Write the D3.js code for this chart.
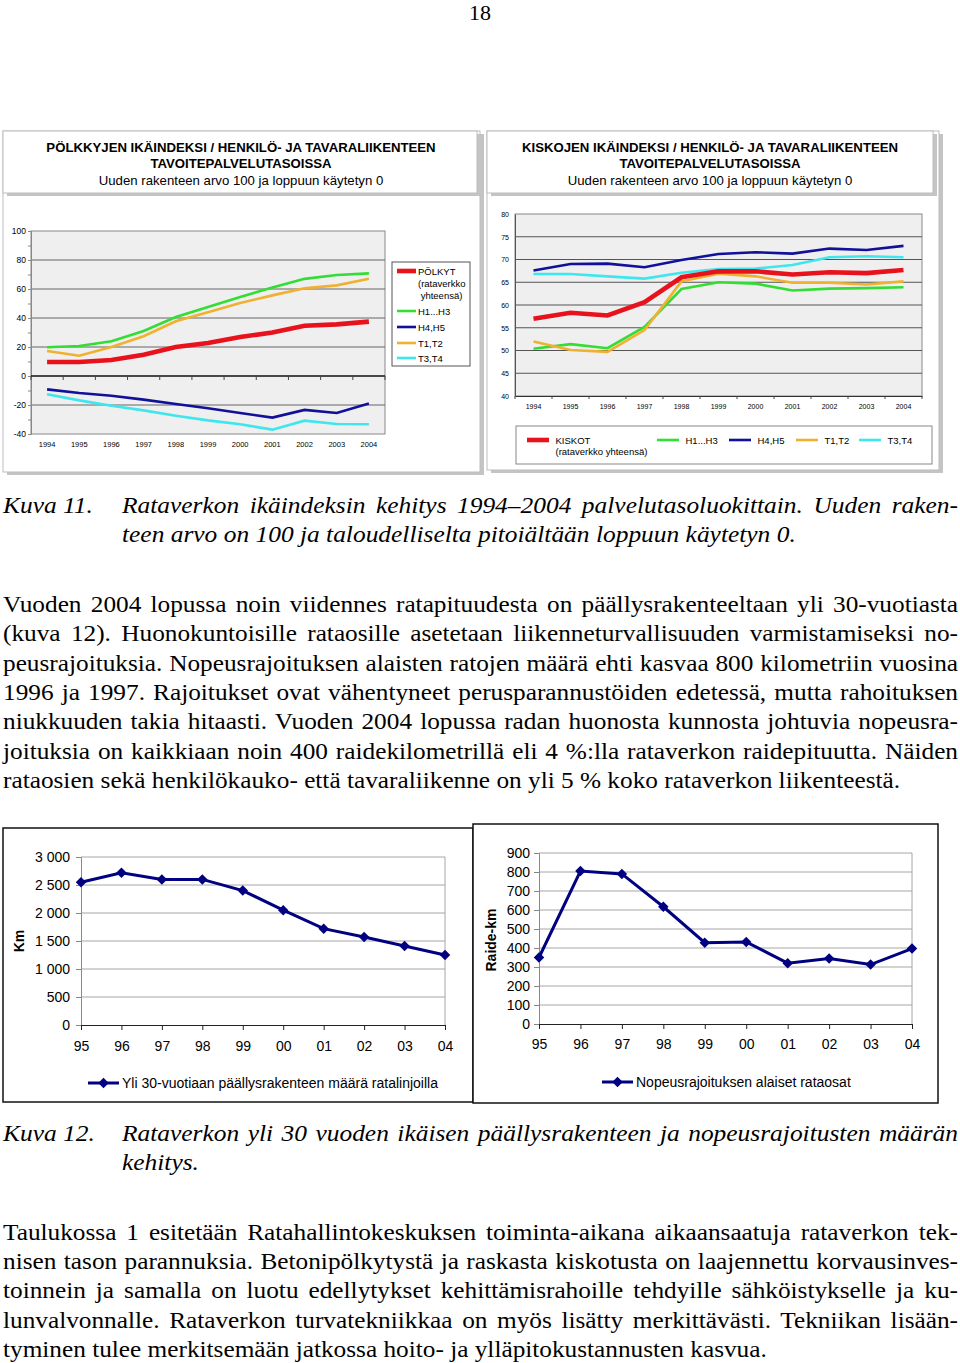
<!DOCTYPE html>
<html>
<head>
<meta charset="utf-8">
<script src="https://cdn.jsdelivr.net/npm/d3@7"></script>
<style>
  body { margin: 0; background: #fff; }
  svg { display: block; }
  .sans { font-family: "Liberation Sans", Arial, sans-serif; }
  .serif { font-family: "Liberation Serif", "Times New Roman", serif; }
</style>
</head>
<body>
<script>
// ---- data ----
var years = ["1994","1995","1996","1997","1998","1999","2000","2001","2002","2003","2004"];

var polkytTotal = [9.7, 9.7, 11, 14.7, 20, 22.8, 26.9, 30, 34.7, 35.6, 37.5];
var polkytH1H3  = [19.8, 20.7, 24, 31, 40.7, 47.6, 54.5, 61, 67, 69.7, 70.8];
var polkytH4H5  = [-9.2, -11.7, -13.6, -16.3, -19.3, -22.3, -25.5, -28.7, -23.4, -25.5, -19];
var polkytT1T2  = [17.2, 14, 20, 27.4, 37.7, 44, 50.3, 55.6, 60.5, 62.5, 67.1];
var polkytT3T4  = [-12.6, -16.8, -20.5, -23.7, -27.4, -30.6, -33.3, -37, -30.8, -33.1, -33.3];

var kiskotTotal = [57, 58.3, 57.7, 60.6, 66.1, 67.4, 67.4, 66.7, 67.2, 67, 67.7];
var kiskotH1H3  = [50.4, 51.4, 50.5, 55.2, 63.5, 65, 64.7, 63.2, 63.6, 63.7, 63.9];
var kiskotH4H5  = [67.6, 69, 69.1, 68.3, 69.9, 71.2, 71.6, 71.3, 72.4, 72.1, 73];
var kiskotT1T2  = [52, 50.1, 49.7, 54.5, 65.2, 66.9, 66.3, 64.9, 64.9, 64.5, 65.2];
var kiskotT3T4  = [66.8, 66.8, 66.3, 65.8, 67.1, 67.9, 68, 68.8, 70.5, 70.7, 70.5];

var shortYears = ["95","96","97","98","99","00","01","02","03","04"];
var over30km   = [2550, 2720, 2600, 2600, 2400, 2050, 1720, 1570, 1410, 1250];
var speedLimitKm = [350, 805, 790, 617, 428, 432, 320, 345, 313, 397];

var polkytTicks = [-40, -20, 0, 20, 40, 60, 80, 100];
var kiskotTicks = [40, 45, 50, 55, 60, 65, 70, 75, 80];
var over30Ticks = [0, 500, 1000, 1500, 2000, 2500, 3000];
var speedTicks  = [0, 100, 200, 300, 400, 500, 600, 700, 800, 900];

var colRed = "#e8121c", colGreen = "#33dd33", colBlue = "#10109a",
    colOrange = "#f0b030", colCyan = "#3ee6ee", colNavy = "#000080";

var svg = d3.select("body").append("svg")
  .attr("width", 960).attr("height", 1363);

// ---- helpers ----
// text line, optionally justified to x1; sx stretches the glyphs horizontally
function textLine(str, x0, x1, y, size, sx, italic, justify) {
  var g = svg.append("g").attr("transform", "translate(" + x0 + "," + y + ") scale(" + sx + ",1)");
  var t = g.append("text").attr("class", "serif")
    .attr("x", 0).attr("y", 0)
    .style("font-size", size + "px")
    .style("font-style", italic ? "italic" : "normal")
    .text(str);
  if (justify) {
    var w = t.node().getComputedTextLength();
    var n = (str.match(/ /g) || []).length;
    if (n > 0) t.style("word-spacing", (((x1 - x0) / sx - w) / n) + "px");
  }
  return t;
}

function boxWithShadow(x, y, w, h) {
  svg.append("rect").attr("x", x + 4).attr("y", y + 3).attr("width", w).attr("height", h)
    .attr("fill", "#c4c4c4");
  svg.append("rect").attr("x", x).attr("y", y).attr("width", w).attr("height", h)
    .attr("fill", "#fff").attr("stroke", "#bdbdbd").attr("stroke-width", 1);
}

function titleLines(cx, lines) {
  lines.forEach(function(l, i) {
    svg.append("text").attr("class", "sans")
      .attr("x", cx).attr("y", l.y)
      .attr("text-anchor", "middle")
      .style("font-size", "13.2px")
      .style("font-weight", l.bold ? "bold" : "normal")
      .text(l.t);
  });
}

// ---- page number ----
svg.append("text").attr("class", "serif").attr("x", 480).attr("y", 20)
  .attr("text-anchor", "middle").style("font-size", "22px").text("18");

// ---- top panels ----
boxWithShadow(3, 131, 477, 341);
boxWithShadow(3, 131, 474, 62);
titleLines(241, [
  {t: "PÖLKKYJEN IKÄINDEKSI / HENKILÖ- JA TAVARALIIKENTEEN", y: 151.5, bold: true},
  {t: "TAVOITEPALVELUTASOISSA", y: 167.5, bold: true},
  {t: "Uuden rakenteen arvo 100 ja loppuun käytetyn 0", y: 184.5, bold: false}
]);

boxWithShadow(487, 131, 452, 339);
boxWithShadow(487, 131, 446, 62);
titleLines(710, [
  {t: "KISKOJEN IKÄINDEKSI / HENKILÖ- JA TAVARALIIKENTEEN", y: 151.5, bold: true},
  {t: "TAVOITEPALVELUTASOISSA", y: 167.5, bold: true},
  {t: "Uuden rakenteen arvo 100 ja loppuun käytetyn 0", y: 184.5, bold: false}
]);

// ---- chart 1: pölkyt ----
(function() {
  var x = d3.scaleBand().domain(years).range([31, 385]);
  var y = d3.scaleLinear().domain([-40, 100]).range([434, 231]);
  var g = svg.append("g").attr("class", "sans");

  g.append("rect").attr("x", 31).attr("y", 231).attr("width", 354).attr("height", 203)
    .attr("fill", "#efefef").attr("stroke", "#888");

  g.selectAll(".grid").data(polkytTicks.filter(function(d) { return d !== 0 && d !== 100 && d !== -40; }))
    .enter().append("line")
    .attr("x1", 31).attr("x2", 385)
    .attr("y1", function(d) { return y(d); }).attr("y2", function(d) { return y(d); })
    .attr("stroke", "#666").attr("stroke-width", 1);

  var ya = g.append("g").attr("transform", "translate(31,0)")
    .call(d3.axisLeft(y).tickValues(d3.range(-40, 101, 10)).tickSize(3).tickPadding(2)
      .tickFormat(function(d) { return d % 20 === 0 ? d : ""; }));
  ya.select(".domain").attr("stroke", "#888");
  ya.selectAll("line").attr("stroke", "#888");
  ya.selectAll("text").style("font-size", "8.5px").style("font-family", "inherit");

  var xa = g.append("g").attr("transform", "translate(0,434)")
    .call(d3.axisBottom(x).tickSize(0).tickPadding(8));
  xa.select(".domain").remove();
  xa.selectAll("text").style("font-size", "7.5px").style("font-family", "inherit");

  g.append("line").attr("x1", 31).attr("x2", 385).attr("y1", y(0)).attr("y2", y(0))
    .attr("stroke", "#111").attr("stroke-width", 1.6);
  var bounds = years.map(function(d) { return x(d); }).concat([385]);
  g.selectAll(".bt").data(bounds).enter().append("line")
    .attr("x1", function(d) { return d; }).attr("x2", function(d) { return d; })
    .attr("y1", y(0)).attr("y2", y(0) + 4).attr("stroke", "#444");

  var line = d3.line()
    .x(function(d, i) { return x(years[i]) + x.bandwidth() / 2; })
    .y(function(d) { return y(d); });
  var series = [
    {v: polkytH1H3, c: colGreen, w: 2.6},
    {v: polkytH4H5, c: colBlue, w: 2.6},
    {v: polkytT1T2, c: colOrange, w: 2.6},
    {v: polkytT3T4, c: colCyan, w: 2.6},
    {v: polkytTotal, c: colRed, w: 4.6}
  ];
  g.selectAll(".s").data(series).enter().append("path")
    .attr("d", function(s) { return line(s.v); })
    .attr("fill", "none").attr("stroke", function(s) { return s.c; })
    .attr("stroke-width", function(s) { return s.w; });

  // legend
  var lg = g.append("g");
  lg.append("rect").attr("x", 392).attr("y", 262).attr("width", 78).attr("height", 104)
    .attr("fill", "#fff").attr("stroke", "#555");
  var items = [
    {c: colRed, w: 4.6, y: 271, t: ["PÖLKYT", "(rataverkko", " yhteensä)"]},
    {c: colGreen, w: 2.6, y: 311, t: ["H1...H3"]},
    {c: colBlue, w: 2.6, y: 327, t: ["H4,H5"]},
    {c: colOrange, w: 2.6, y: 343, t: ["T1,T2"]},
    {c: colCyan, w: 2.6, y: 358, t: ["T3,T4"]}
  ];
  items.forEach(function(it) {
    lg.append("line").attr("x1", 397).attr("x2", 416).attr("y1", it.y).attr("y2", it.y)
      .attr("stroke", it.c).attr("stroke-width", it.w);
    it.t.forEach(function(s, j) {
      lg.append("text").attr("x", 418).attr("y", it.y + 3.5 + j * 12)
        .style("font-size", "9.5px").attr("xml:space", "preserve").text(s);
    });
  });
})();

// ---- chart 2: kiskot ----
(function() {
  var x = d3.scaleBand().domain(years).range([515, 922]);
  var y = d3.scaleLinear().domain([40, 80]).range([396, 214]);
  var g = svg.append("g").attr("class", "sans");

  g.append("rect").attr("x", 515).attr("y", 214).attr("width", 407).attr("height", 182)
    .attr("fill", "#efefef").attr("stroke", "#888");

  g.selectAll(".grid").data(kiskotTicks.filter(function(d) { return d > 40 && d < 80; }))
    .enter().append("line")
    .attr("x1", 515).attr("x2", 922)
    .attr("y1", function(d) { return y(d); }).attr("y2", function(d) { return y(d); })
    .attr("stroke", "#555").attr("stroke-width", 1.1);

  var ya = g.append("g").attr("transform", "translate(515,0)")
    .call(d3.axisLeft(y).tickValues(kiskotTicks).tickSize(0).tickPadding(6));
  ya.select(".domain").attr("stroke", "#555");
  ya.selectAll("text").style("font-size", "7px").style("font-family", "inherit");

  var xa = g.append("g").attr("transform", "translate(0,396)")
    .call(d3.axisBottom(x).tickSize(0).tickPadding(8));
  xa.select(".domain").attr("stroke", "#333");
  xa.selectAll("text").style("font-size", "7px").style("font-family", "inherit");

  var bounds = years.map(function(d) { return x(d); }).concat([922]);
  g.selectAll(".bt").data(bounds).enter().append("line")
    .attr("x1", function(d) { return d; }).attr("x2", function(d) { return d; })
    .attr("y1", 396).attr("y2", 399).attr("stroke", "#444");

  var line = d3.line()
    .x(function(d, i) { return x(years[i]) + x.bandwidth() / 2; })
    .y(function(d) { return y(d); });
  var series = [
    {v: kiskotH4H5, c: colBlue, w: 2.6},
    {v: kiskotT3T4, c: colCyan, w: 2.6},
    {v: kiskotH1H3, c: colGreen, w: 2.6},
    {v: kiskotT1T2, c: colOrange, w: 2.6},
    {v: kiskotTotal, c: colRed, w: 4.6}
  ];
  g.selectAll(".s").data(series).enter().append("path")
    .attr("d", function(s) { return line(s.v); })
    .attr("fill", "none").attr("stroke", function(s) { return s.c; })
    .attr("stroke-width", function(s) { return s.w; });

  // legend
  var lg = g.append("g");
  lg.append("rect").attr("x", 516).attr("y", 426).attr("width", 416).attr("height", 38)
    .attr("fill", "#fff").attr("stroke", "#888");
  var items = [
    {c: colRed, w: 4.6, x: 527, t: ["KISKOT", "(rataverkko yhteensä)"]},
    {c: colGreen, w: 2.6, x: 657, t: ["H1...H3"]},
    {c: colBlue, w: 2.6, x: 729, t: ["H4,H5"]},
    {c: colOrange, w: 2.6, x: 796, t: ["T1,T2"]},
    {c: colCyan, w: 2.6, x: 859, t: ["T3,T4"]}
  ];
  items.forEach(function(it) {
    lg.append("line").attr("x1", it.x).attr("x2", it.x + 22).attr("y1", 440).attr("y2", 440)
      .attr("stroke", it.c).attr("stroke-width", it.w);
    it.t.forEach(function(s, j) {
      lg.append("text").attr("x", it.x + 28.5).attr("y", 443.5 + j * 11)
        .style("font-size", "9.5px").text(s);
    });
  });
})();

// ---- captions and text ----
var capSize = 24, capSx = 1.06, bodySize = 23, bodySx = 1.1;

textLine("Kuva 11.", 3, 100, 513, capSize, capSx, true, false);
textLine("Rataverkon ikäindeksin kehitys 1994–2004 palvelutasoluokittain. Uuden raken-", 122, 958, 513, capSize, capSx, true, true);
textLine("teen arvo on 100 ja taloudelliselta pitoiältään loppuun käytetyn 0.", 122, 958, 542, capSize, capSx, true, false);

var para1 = [
  "Vuoden 2004 lopussa noin viidennes ratapituudesta on päällysrakenteeltaan yli 30-vuotiasta",
  "(kuva 12). Huonokuntoisille rataosille asetetaan liikenneturvallisuuden varmistamiseksi no-",
  "peusrajoituksia. Nopeusrajoituksen alaisten ratojen määrä ehti kasvaa 800 kilometriin vuosina",
  "1996 ja 1997. Rajoitukset ovat vähentyneet perusparannustöiden edetessä, mutta rahoituksen",
  "niukkuuden takia hitaasti. Vuoden 2004 lopussa radan huonosta kunnosta johtuvia nopeusra-",
  "joituksia on kaikkiaan noin 400 raidekilometrillä eli 4 %:lla rataverkon raidepituutta. Näiden",
  "rataosien sekä henkilökauko- että tavaraliikenne on yli 5 % koko rataverkon liikenteestä."
];
para1.forEach(function(l, i) {
  textLine(l, 3, 958, 612 + i * 29.3, bodySize, bodySx, false, i < para1.length - 1);
});

textLine("Kuva 12.", 3, 100, 1141, capSize, capSx, true, false);
textLine("Rataverkon yli 30 vuoden ikäisen päällysrakenteen ja nopeusrajoitusten määrän", 122, 958, 1141, capSize, capSx, true, true);
textLine("kehitys.", 122, 958, 1170, capSize, capSx, true, false);

var para2 = [
  "Taulukossa 1 esitetään Ratahallintokeskuksen toiminta-aikana aikaansaatuja rataverkon tek-",
  "nisen tason parannuksia. Betonipölkytystä ja raskasta kiskotusta on laajennettu korvausinves-",
  "toinnein ja samalla on luotu edellytykset kehittämisrahoille tehdyille sähköistykselle ja ku-",
  "lunvalvonnalle. Rataverkon turvatekniikkaa on myös lisätty merkittävästi. Tekniikan lisään-",
  "tyminen tulee merkitsemään jatkossa hoito- ja ylläpitokustannusten kasvua."
];
para2.forEach(function(l, i) {
  textLine(l, 3, 958, 1240 + i * 29.2, bodySize, bodySx, false, i < para2.length - 1);
});

// ---- bottom charts ----
function kmChart(opt) {
  svg.append("rect").attr("x", opt.frame[0]).attr("y", opt.frame[1])
    .attr("width", opt.frame[2]).attr("height", opt.frame[3])
    .attr("fill", "#fff").attr("stroke", "#111").attr("stroke-width", 1.5);

  var g = svg.append("g").attr("class", "sans");
  var x = d3.scalePoint().domain(shortYears).range([opt.x0, opt.x1]);
  var y = d3.scaleLinear().domain([0, opt.ticks[opt.ticks.length - 1]]).range([opt.y0, opt.y1]);

  g.selectAll(".grid").data(opt.ticks.filter(function(d) { return d > 0; }))
    .enter().append("line")
    .attr("x1", opt.x0).attr("x2", opt.x1)
    .attr("y1", function(d) { return y(d); }).attr("y2", function(d) { return y(d); })
    .attr("stroke", "#a6a6a6");
  g.append("line").attr("x1", opt.x1).attr("x2", opt.x1).attr("y1", opt.y1).attr("y2", opt.y0)
    .attr("stroke", "#a6a6a6");

  var fmt = function(d) { return d3.format(",")(d).replace(/,/g, " "); };
  var ya = g.append("g").attr("transform", "translate(" + opt.x0 + ",0)")
    .call(d3.axisLeft(y).tickValues(opt.ticks).tickSize(5).tickPadding(opt.ypad).tickFormat(fmt));
  ya.select(".domain").attr("stroke", "#888");
  ya.selectAll("line").attr("stroke", "#888");
  ya.selectAll("text").style("font-size", "14px").style("font-family", "inherit").attr("fill", "#000");

  var xa = g.append("g").attr("transform", "translate(0," + opt.y0 + ")")
    .call(d3.axisBottom(x).tickSize(5).tickPadding(opt.xpad));
  xa.select(".domain").attr("stroke", "#222");
  xa.selectAll("line").attr("stroke", "#222");
  xa.selectAll("text").style("font-size", "14px").style("font-family", "inherit").attr("fill", "#000");

  g.append("text").attr("transform", "translate(" + opt.labelX + "," + opt.labelY + ") rotate(-90)")
    .attr("text-anchor", "middle").style("font-size", "14px").style("font-weight", "bold")
    .text(opt.label);

  var line = d3.line().x(function(d, i) { return x(shortYears[i]); }).y(function(d) { return y(d); });
  g.append("path").attr("d", line(opt.values)).attr("fill", "none")
    .attr("stroke", colNavy).attr("stroke-width", 3);
  var diamond = d3.symbol().type(d3.symbolDiamond2).size(70);
  g.selectAll(".pt").data(opt.values).enter().append("path")
    .attr("d", diamond)
    .attr("transform", function(d, i) { return "translate(" + x(shortYears[i]) + "," + y(d) + ")"; })
    .attr("fill", colNavy);

  g.append("line").attr("x1", opt.legX).attr("x2", opt.legX + 31).attr("y1", opt.legY).attr("y2", opt.legY)
    .attr("stroke", colNavy).attr("stroke-width", 3);
  g.append("path").attr("d", diamond)
    .attr("transform", "translate(" + (opt.legX + 15.5) + "," + opt.legY + ")").attr("fill", colNavy);
  g.append("text").attr("x", opt.legX + 34).attr("y", opt.legY + 5)
    .style("font-size", "14px").text(opt.legend);
}

kmChart({
  frame: [3, 828, 470, 274],
  x0: 81, x1: 445, y0: 1025, y1: 857,
  ticks: over30Ticks, values: over30km, ypad: 6, xpad: 11,
  label: "Km", labelX: 24, labelY: 941,
  legX: 88, legY: 1083,
  legend: "Yli 30-vuotiaan päällysrakenteen määrä ratalinjoilla"
});

kmChart({
  frame: [473, 824, 465, 279],
  x0: 539, x1: 912, y0: 1024, y1: 853,
  ticks: speedTicks, values: speedLimitKm, ypad: 4, xpad: 10,
  label: "Raide-km", labelX: 496, labelY: 940,
  legX: 602, legY: 1082,
  legend: "Nopeusrajoituksen alaiset rataosat"
});
</script>
</body>
</html>
